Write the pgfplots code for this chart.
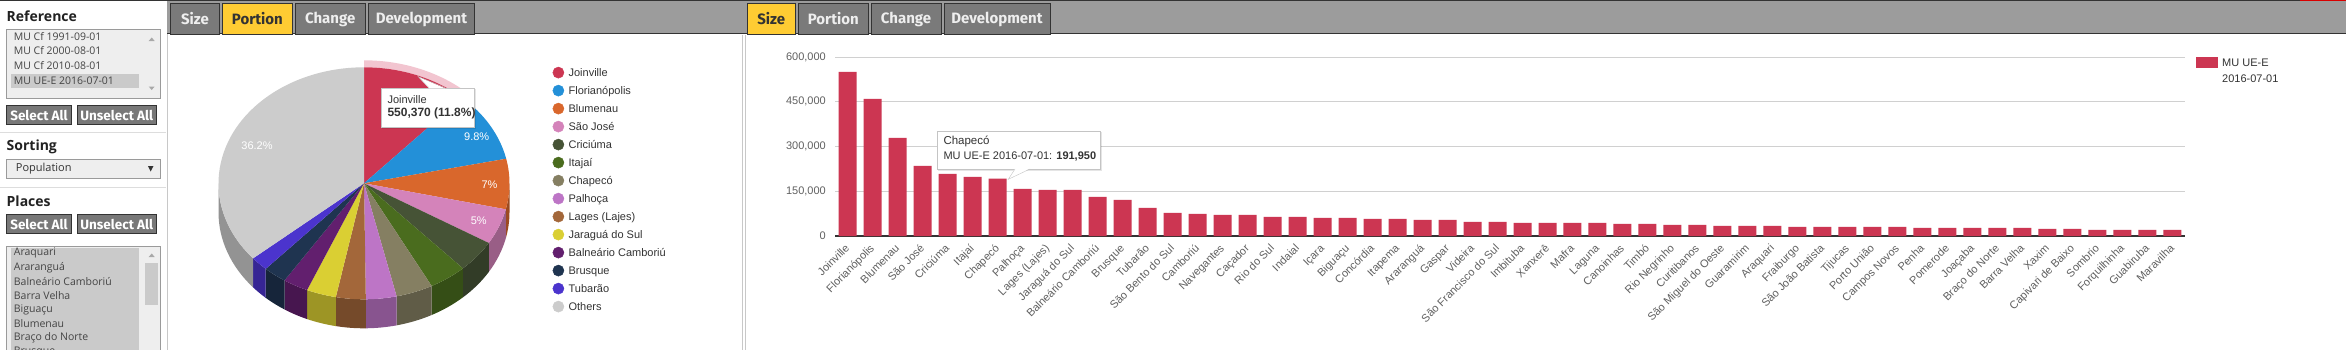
\documentclass[border=0pt]{standalone}
\usepackage{pgfplots}
\pgfplotsset{compat=1.18}
\usepackage{pgfplotstable}
\usepackage{fontspec}
\setmainfont{Liberation Sans}
\newfontfamily\osans{Open Sans}
\newfontfamily\fira{Fira Sans}

\definecolor{cbar}{HTML}{CC3652}
\definecolor{cJoi}{HTML}{CC3652}
\definecolor{cFlo}{HTML}{2390D8}
\definecolor{cBlu}{HTML}{D9672C}
\definecolor{cSJo}{HTML}{D483BA}
\definecolor{cCri}{HTML}{465336}
\definecolor{cIta}{HTML}{4A6C1E}
\definecolor{cCha}{HTML}{857F62}
\definecolor{cPal}{HTML}{BD75C6}
\definecolor{cLag}{HTML}{A3673A}
\definecolor{cJar}{HTML}{DACF33}
\definecolor{cBal}{HTML}{621F6E}
\definecolor{cBru}{HTML}{1F3450}
\definecolor{cTub}{HTML}{4B34CD}
\definecolor{cOth}{HTML}{CCCCCC}
\definecolor{cHalo}{HTML}{F2C5D0}
\definecolor{tabbar}{HTML}{9C9C9C}
\definecolor{tabin}{HTML}{7A7A7A}
\definecolor{tabon}{HTML}{FFCC33}
\definecolor{tabtxt}{HTML}{EEEEEE}
\definecolor{dark}{HTML}{333333}
\definecolor{gridc}{HTML}{D0D0D0}
\definecolor{lbl}{HTML}{606060}
\definecolor{btn}{HTML}{787878}
\definecolor{boxbg}{HTML}{EEEEEE}
\definecolor{boxbd}{HTML}{9A9A9A}
\definecolor{selbg}{HTML}{CACACA}
\definecolor{panelbd}{HTML}{C8C8C8}
\definecolor{ttbd}{HTML}{C4C4C4}
\definecolor{head}{HTML}{222222}
\definecolor{item}{HTML}{444444}
\definecolor{arrowc}{HTML}{A8A8A8}
\definecolor{divc}{HTML}{DDDDDD}

% population, MU UE-E 2016-07-01
\pgfplotstableread{
idx pop
1 550370
2 459800
3 329000
4 235100
5 208300
6 198200
7 191950
8 158000
9 154600
10 154600
11 131100
12 121100
13 94200
14 77500
15 74100
16 70800
17 70800
18 64100
19 64100
20 60700
21 60700
22 57400
23 57400
24 54000
25 54000
26 47300
27 47300
28 43900
29 43900
30 43900
31 43900
32 40600
33 40600
34 37200
35 37200
36 33900
37 33900
38 33900
39 30500
40 30500
41 30500
42 30500
43 30500
44 27200
45 27200
46 27200
47 27200
48 27200
49 23800
50 23800
51 20500
52 20500
53 20500
54 20500
}\bardata

% pie shares (percent) and colours
\def\piedata{11.8/cJoi,9.8/cFlo,7.0/cBlu,5.0/cSJo,4.5/cCri,4.2/cIta,4.1/cCha,3.4/cPal,3.3/cLag,3.3/cJar,2.8/cBal,2.6/cBru,2.0/cTub,36.2/cOth}

\begin{document}
\begin{tikzpicture}
\useasboundingbox (0,0) rectangle (2346bp,-350bp);
\begin{scope}[x=1bp,y=-1bp]
\fill[white] (0,0) rectangle (2346,350);
% ---------- left panel
\node[anchor=west, inner sep=0pt, text=head, font=\osans\bfseries\fontsize{14bp}{16bp}\selectfont] at (6.5,16.7) {Reference};
\filldraw[fill=boxbg, draw=boxbd] (6.5,29.5) rectangle (160.5,98.5);
\fill[selbg] (11,74) rectangle (139,88);
\foreach \tname/\yy in {MU Cf 1991-09-01/37, MU Cf 2000-08-01/51, MU Cf 2010-08-01/65.3, MU UE-E 2016-07-01/80.8}
  \node[anchor=west, inner sep=0pt, text=item, font=\osans\fontsize{10.5bp}{12bp}\selectfont] at (13.7,\yy) {\tname};
\fill[arrowc] (148.7,41) -- (154.7,41) -- (151.7,37.5) -- cycle;
\fill[arrowc] (148.7,86.5) -- (154.7,86.5) -- (151.7,90) -- cycle;
\foreach \xa/\xb/\ya/\yb/\tname in {6.5/71.5/105.5/124.5/Select All, 77/156.5/105.5/124.5/Unselect All, 6.5/71.5/214.5/233.5/Select All, 77/156.5/214.5/233.5/Unselect All}{
  \filldraw[fill=btn, draw=dark, line width=0.9bp] (\xa,\ya) rectangle (\xb,\yb);
  \node[inner sep=0pt, text=white, font=\fira\bfseries\fontsize{13.5bp}{15bp}\selectfont] at ({(\xa+\xb)/2},{(\ya+\yb)/2}) {\tname};
}
\draw[divc] (0,131.7) -- (166,131.7);
\node[anchor=west, inner sep=0pt, text=head, font=\osans\bfseries\fontsize{14bp}{16bp}\selectfont] at (6.5,146.7) {Sorting};
\filldraw[fill=boxbg, draw=boxbd] (6.5,159.5) rectangle (160.5,178.5);
\node[anchor=west, inner sep=0pt, text=dark, font=\osans\fontsize{11bp}{13bp}\selectfont] at (15.7,169) {Population};
\fill[dark] (147.9,166) -- (153.5,166) -- (150.7,171.5) -- cycle;
\draw[divc] (0,186.7) -- (166,186.7);
\node[anchor=west, inner sep=0pt, text=head, font=\osans\bfseries\fontsize{14bp}{16bp}\selectfont] at (6.5,201.7) {Places};
\filldraw[fill=boxbg, draw=boxbd] (6.5,246) rectangle (160.5,365);
\fill[selbg] (11,247.5) rectangle (139,365);
\foreach \tname [count=\k] in {Araquari, Araranguá, Balneário Camboriú, Barra Velha, Biguaçu, Blumenau, Braço do Norte, Brusque}
  \node[anchor=west, inner sep=0pt, text=item, font=\osans\fontsize{10.5bp}{12bp}\selectfont] at (13.7,{253.3+14.1*(\k-1)}) {\tname};
\fill[selbg] (145,263) rectangle (158,305);
\fill[arrowc] (148.7,257) -- (154.7,257) -- (151.7,253.5) -- cycle;
\draw[panelbd] (166.7,0) -- (166.7,350);
% ---------- tab bars
\fill[tabbar] (167,0) rectangle (2346,34);
\draw[dark, line width=1.2bp] (167,33.8) -- (2346,33.8);
\draw[dark, line width=1.5bp] (0,0.6) -- (2346,0.6);
\fill[red!85!black] (2300,0) rectangle (2346,1.4);
\foreach \xa/\xb/\tname/\f/\tc in {170.7/219.4/Size/tabin/tabtxt, 222.3/292.4/Portion/tabon/dark, 295.4/365/Change/tabin/tabtxt, 368.8/474/Development/tabin/tabtxt, 747/795.5/Size/tabon/dark, 798/868.6/Portion/tabin/tabtxt, 871/941/Change/tabin/tabtxt, 944/1050/Development/tabin/tabtxt}{
  \filldraw[fill=\f, draw=dark, line width=0.9bp] (\xa,3.5) rectangle (\xb,34.3);
  \node[inner sep=0pt, text=\tc, font=\fira\bfseries\fontsize{15bp}{17bp}\selectfont] at ({(\xa+\xb)/2},19) {\tname};
}
\draw[panelbd] (167.5,34.5) -- (167.5,350);
\draw[panelbd] (742.5,34.5) -- (742.5,350);
\draw[panelbd] (745,34.5) -- (745,350);
\end{scope}

% ---------- pie chart (3D look)
\begin{axis}[at={(364bp,-183.3bp)}, anchor=origin, x=145.5bp, y=116bp,
  xmin=-1, xmax=1, ymin=-1, ymax=1, hide axis, clip=false,
  legend image code/.code={\fill[#1] (5.6bp,0bp) circle (5.6bp);},
  legend style={at={(axis description cs:1.1474,1.003)}, anchor=north west, draw=none, fill=none,
    inner sep=0pt, row sep=6.4bp, column sep=4.4bp,
    font=\fontsize{11bp}{13bp}\selectfont, text=dark, nodes={inner sep=0pt}},
  legend cell align=left]
\pgfplotsextra{%
  \def\rx{145.5bp}\def\ry{116bp}%
  \gdef\cum{0}%
  \foreach \pv/\col in \piedata {%
    \pgfmathsetmacro\angA{90-3.6*\cum}%
    \pgfmathsetmacro\angB{90-3.6*(\cum+\pv)}%
    \pgfmathsetmacro\wS{min(\angA,0)}%
    \pgfmathsetmacro\wE{max(\angB,-180)}%
    \ifdim\wS pt>\wE pt
      \fill[\col!72!black] (axis cs:{cos(\wS)},{sin(\wS)}) arc[start angle=\wS, end angle=\wE, x radius=\rx, y radius=\ry]
        -- (axis cs:{cos(\wE)},{sin(\wE)-0.25}) arc[start angle=\wE, end angle=\wS, x radius=\rx, y radius=\ry] -- cycle;
    \fi
    \pgfmathsetmacro\nc{\cum+\pv}\xdef\cum{\nc}%
  }%
  \fill[cHalo] (axis cs:0,{123/116}) arc[start angle=90, end angle=47.52, x radius=152.5bp, y radius=123bp]
     -- (axis cs:{cos(47.52)},{sin(47.52)}) arc[start angle=47.52, end angle=90, x radius=\rx, y radius=\ry] -- cycle;
  \gdef\cum{0}%
  \foreach \pv/\col in \piedata {%
    \pgfmathsetmacro\angA{90-3.6*\cum}%
    \pgfmathsetmacro\angB{90-3.6*(\cum+\pv)}%
    \fill[\col] (axis cs:0,0) -- (axis cs:{cos(\angA)},{sin(\angA)}) arc[start angle=\angA, end angle=\angB, x radius=\rx, y radius=\ry] -- cycle;
    \pgfmathsetmacro\nc{\cum+\pv}\xdef\cum{\nc}%
  }%
}
\addlegendimage{cJoi}\addlegendentry{\strut Joinville}
\addlegendimage{cFlo}\addlegendentry{\strut Florianópolis}
\addlegendimage{cBlu}\addlegendentry{\strut Blumenau}
\addlegendimage{cSJo}\addlegendentry{\strut São José}
\addlegendimage{cCri}\addlegendentry{\strut Criciúma}
\addlegendimage{cIta}\addlegendentry{\strut Itajaí}
\addlegendimage{cCha}\addlegendentry{\strut Chapecó}
\addlegendimage{cPal}\addlegendentry{\strut Palhoça}
\addlegendimage{cLag}\addlegendentry{\strut Lages (Lajes)}
\addlegendimage{cJar}\addlegendentry{\strut Jaraguá do Sul}
\addlegendimage{cBal}\addlegendentry{\strut Balneário Camboriú}
\addlegendimage{cBru}\addlegendentry{\strut Brusque}
\addlegendimage{cTub}\addlegendentry{\strut Tubarão}
\addlegendimage{cOth}\addlegendentry{\strut Others}
\end{axis}

% ---------- bar chart
\begin{axis}[at={(835bp,-236bp)}, anchor=south west, scale only axis,
  width=1350bp, height=179bp,
  xmin=0.5, xmax=54.5, ymin=0, ymax=600000,
  axis x line*=bottom, axis y line*=left,
  y axis line style={draw=none}, x axis line style={draw=dark, line width=1.2bp},
  ymajorgrids, major grid style={draw=gridc, line width=1bp},
  major tick length=0pt,
  ytick={0,150000,300000,450000,600000},
  scaled y ticks=false,
  /pgf/number format/fixed,
  /pgf/number format/precision=0,
  /pgf/number format/1000 sep={,},
  /pgf/number format/assume math mode=true,
  yticklabel style={font=\fontsize{11bp}{13bp}\selectfont, text=lbl, anchor=east, inner sep=0pt, xshift=-9bp},
  xtick={1,...,54},
  xticklabels={Joinville, Florianópolis, Blumenau, São José, Criciúma, Itajaí, Chapecó, Palhoça, {Lages (Lajes)}, Jaraguá do Sul, Balneário Camboriú, Brusque, Tubarão, São Bento do Sul, Camboriú, Navegantes, Caçador, Rio do Sul, Indaial, Içara, Biguaçu, Concórdia, Itapema, Araranguá, Gaspar, Videira, São Francisco do Sul, Imbituba, Xanxerê, Mafra, Laguna, Canoinhas, Timbó, Rio Negrinho, Curitibanos, São Miguel do Oeste, Guaramirim, Araquari, Fraiburgo, São João Batista, Tijucas, Porto União, Campos Novos, Penha, Pomerode, Joaçaba, Braço do Norte, Barra Velha, Xaxim, Capivari de Baixo, Sombrio, Forquilhinha, Guabiruba, Maravilha},
  xticklabel style={font=\fontsize{11bp}{13bp}\selectfont, text=lbl, anchor=base east, inner sep=0pt, xshift=2.5bp, yshift=-13bp, rotate=45},
  legend image code/.code={\fill[cbar] (0bp,-5.2bp) rectangle (22bp,5.2bp);},
  legend style={at={(axis description cs:1.00815,1.0006)}, anchor=north west, draw=none, fill=none,
    inner sep=0pt, column sep=4bp, row sep=6bp,
    font=\fontsize{11bp}{13bp}\selectfont, text=dark, nodes={inner sep=0pt}},
  legend cell align=left,
  clip=false]
\addplot[ybar, bar width=18bp, fill=cbar, draw=none, forget plot] table[x=idx, y=pop] {\bardata};
\addlegendimage{draw=none}
\addlegendentry{\strut MU UE-E}
\addlegendimage{empty legend}
\addlegendentry{\strut 2016-07-01}
\end{axis}

% ---------- labels and tooltips
\begin{scope}[x=1bp,y=-1bp]
\foreach \xx/\yy/\tname in {257/145.7/36.2\%, 476.7/136.7/9.8\%, 489.5/184.3/7\%, 478.7/220.3/5\%}
  \node[inner sep=0pt, text=white, font=\fontsize{11bp}{13bp}\selectfont] at (\xx,\yy) {\tname};
% pie tooltip
\fill[black, opacity=0.10] (382.2,89.2) rectangle (476.3,129.3);
\filldraw[fill=white, draw=ttbd] (380.7,87.7) rectangle (474.3,127.3);
\fill[white] (429,88.3) -- (418.3,76.7) -- (445,88.3) -- cycle;
\draw[ttbd] (429,87.7) -- (418.3,76.7) -- (445,87.7);
\node[anchor=west, inner sep=0pt, text=dark, font=\fontsize{11bp}{13bp}\selectfont] at (387.3,99.3) {Joinville};
\node[anchor=west, inner sep=0pt, text=dark, font=\bfseries\fontsize{12bp}{14bp}\selectfont] at (387.3,113) {550,370 (11.8\%)};
% bar tooltip
\fill[black, opacity=0.10] (938.2,132.2) rectangle (1101.5,170.5);
\filldraw[fill=white, draw=ttbd] (936.7,130.7) rectangle (1100,169);
\fill[white] (1015,168.4) -- (1008.3,179.3) -- (1030,168.4) -- cycle;
\draw[ttbd] (1015,169) -- (1008.3,179.3) -- (1030,169);
\node[anchor=west, inner sep=0pt, text=dark, font=\fontsize{11.5bp}{13bp}\selectfont] at (943.3,141.7) {Chapecó};
\node[anchor=west, inner sep=0pt, text=dark, font=\fontsize{11bp}{13bp}\selectfont] at (943.3,156.7) {MU UE-E 2016-07-01: \textbf{191,950}};
\end{scope}
\end{tikzpicture}
\end{document}
